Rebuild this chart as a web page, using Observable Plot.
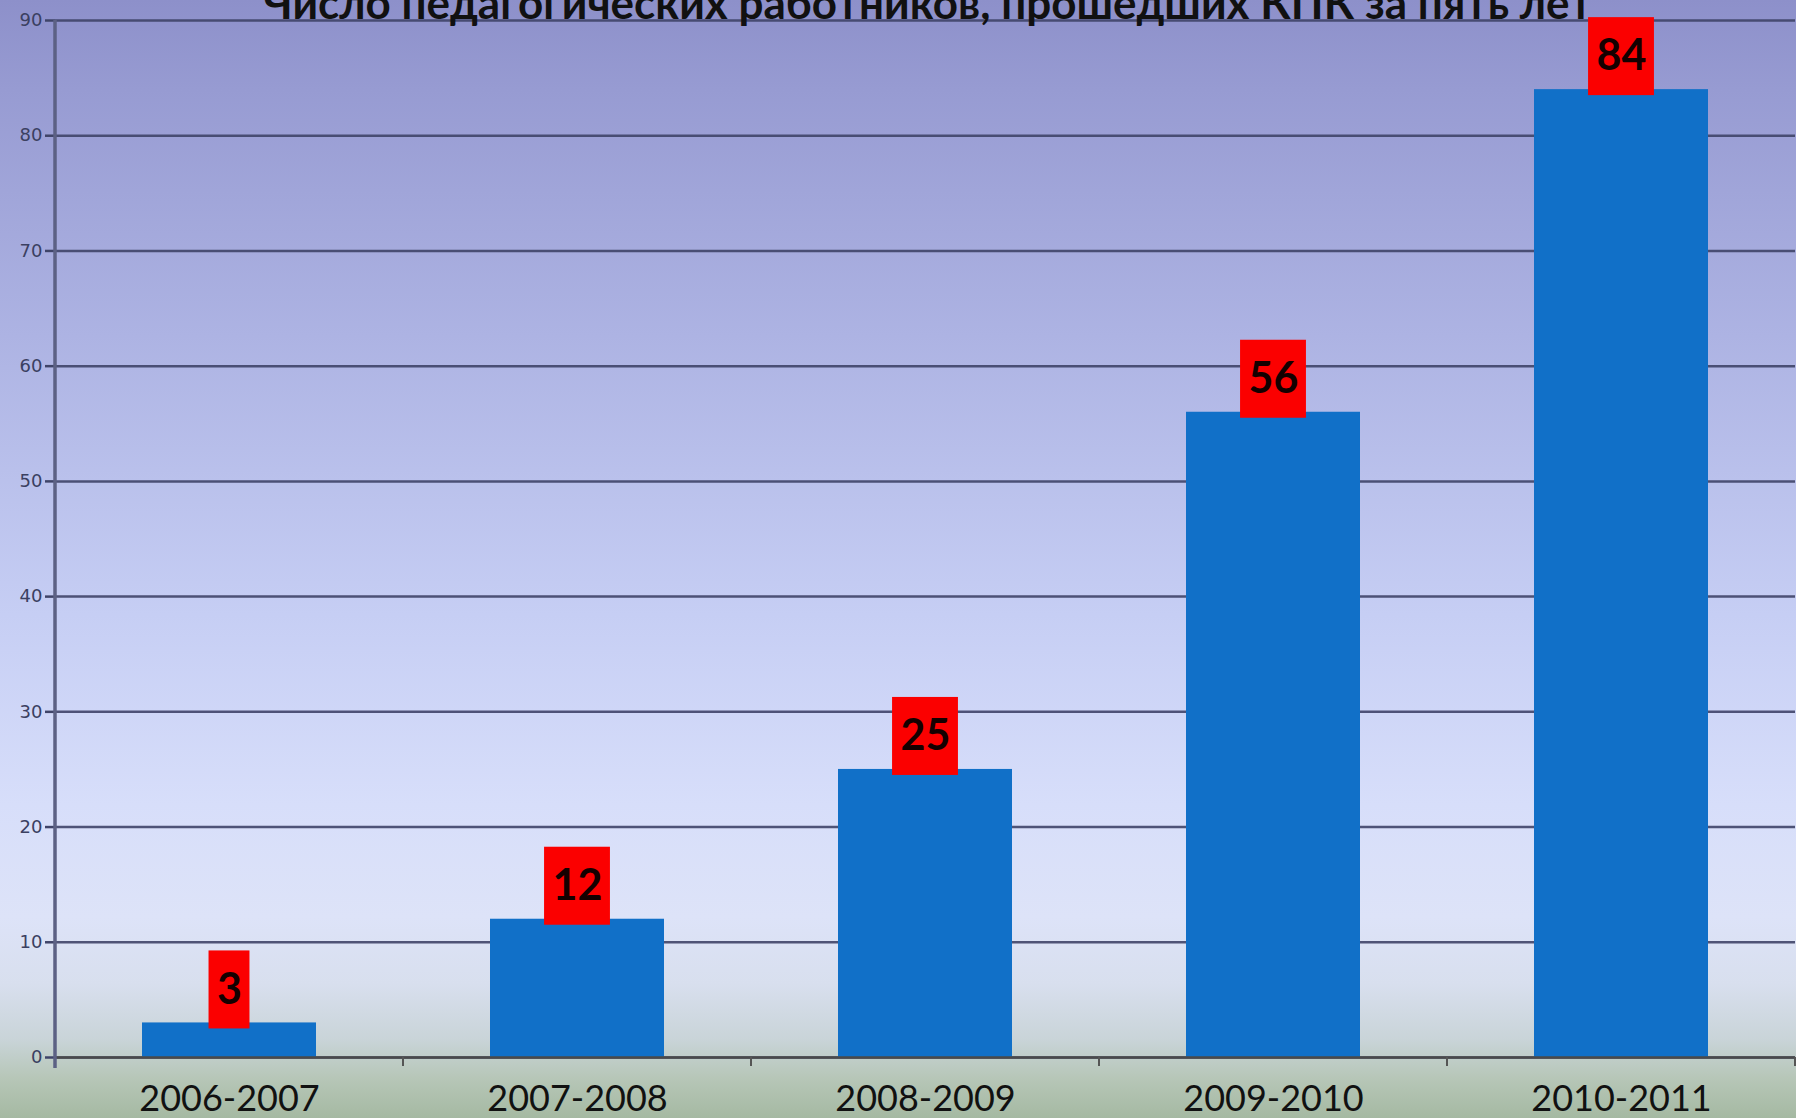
<!DOCTYPE html>
<html>
<head>
<meta charset="utf-8">
<script src="https://cdn.jsdelivr.net/npm/d3@7"></script>
<script src="https://cdn.jsdelivr.net/npm/@observablehq/plot@0.6"></script>
<style>
  html, body { margin: 0; padding: 0; overflow: hidden; background: #a5b9a2; }
  #chart svg { display: block; max-width: none; }
</style>
</head>
<body>
<div id="chart"></div>
<script>
// ---- data ----
const title = "Число педагогических работников, прошедших КПК за пять лет";
const years = ["2006-2007", "2007-2008", "2008-2009", "2009-2010", "2010-2011"];
const teachers = [3, 12, 25, 56, 84];
const yTicks = [0, 10, 20, 30, 40, 50, 60, 70, 80, 90];

const data = years.map((y, i) => ({year: y, value: teachers[i]}));

// ---- styles ----
const W = 1796, H = 1118;
const labelFont = "bold 43px Lato";
const canvas = document.createElement("canvas");
const ctx = canvas.getContext("2d");
ctx.font = labelFont;

// custom mark: y axis line + band-boundary ticks on x axis
function axisDecor(index, scales, values, dim) {
  const g = d3.create("svg:g");
  const x0 = dim.marginLeft;
  const yBase = dim.height - dim.marginBottom;
  g.append("line")
    .attr("x1", x0).attr("x2", x0)
    .attr("y1", dim.marginTop).attr("y2", yBase + 11)
    .attr("stroke", "#5c6184").attr("stroke-width", 3.5);
  const x = scales.x;
  const step = x.step ? x.step() : 0;
  const bw = x.bandwidth ? x.bandwidth() : 0;
  x.domain().forEach(d => {
    const b = x(d) + bw / 2 + step / 2;
    g.append("line")
      .attr("x1", b).attr("x2", b)
      .attr("y1", yBase).attr("y2", yBase + 9)
      .attr("stroke", "#555").attr("stroke-width", 2);
  });
  return g.node();
}

// custom mark: red boxes behind the value labels
function labelBoxes(index, scales, values, dim) {
  const g = d3.create("svg:g");
  const x = scales.x, y = scales.y;
  const bw = x.bandwidth ? x.bandwidth() : 0;
  data.forEach(d => {
    const cx = x(d.year) + bw / 2;
    const cy = y(d.value);
    const w = ctx.measureText(String(d.value)).width + 16;
    g.append("rect")
      .attr("x", cx - w / 2).attr("width", w)
      .attr("y", cy - 72).attr("height", 78)
      .attr("fill", "#fb0000");
  });
  return g.node();
}

const chart = Plot.plot({
  width: W,
  height: H,
  marginLeft: 55,
  marginRight: 1,
  marginTop: 20,
  marginBottom: 61,
  style: {
    background: "linear-gradient(to bottom, #8d90ca 0%, #979bd2 8%, #adb3e3 30%, #c6cef4 55%, #d7defa 72%, #dde3f8 82%, #d8dfee 88%, #c9d4d8 93%, #b6c6b7 96.5%, #a5b9a2 100%)",
    fontFamily: "Lato, sans-serif"
  },
  x: {domain: years, paddingInner: 0.5, paddingOuter: 0.25, label: null},
  y: {domain: [0, 90], label: null},
  marks: [
    Plot.gridY(yTicks, {stroke: "#3f4468", strokeOpacity: 0.9, strokeWidth: 2.5}),
    Plot.axisY(yTicks, {
      tickSize: 10, tickPadding: 3, stroke: "#3f4468", strokeWidth: 2.5,
      fontSize: 18, fontFamily: "DejaVu Sans", fill: "#3b4061", label: null
    }),
    Plot.axisX({
      tickSize: 0, tickPadding: 28, fontSize: 36, fontFamily: "Lato", fill: "#111", label: null
    }),
    Plot.barY(data, {x: "year", y: "value", fill: "#1170c8"}),
    Plot.ruleY([0], {stroke: "#4a4a4a", strokeWidth: 2.5}),
    axisDecor,
    labelBoxes,
    Plot.text(data, {
      x: "year", y: "value", text: d => String(d.value), dy: -33,
      fontSize: 43, fontWeight: "bold", fontFamily: "Lato", fill: "#140000"
    }),
    Plot.text([title], {
      text: d => d, frameAnchor: "top", lineAnchor: "top", dx: 2, dy: -33,
      fontSize: 44, fontWeight: "bold", fontFamily: "Lato", fill: "#111"
    })
  ]
});

document.getElementById("chart").appendChild(chart);
</script>
</body>
</html>
